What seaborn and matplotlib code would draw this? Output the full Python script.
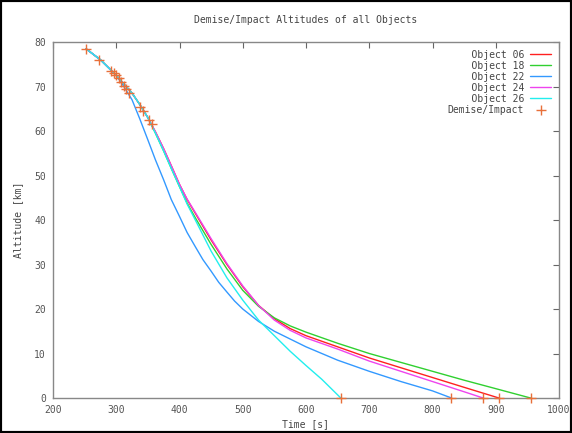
import pandas as pd
import matplotlib
matplotlib.use('Agg')
import matplotlib.pyplot as plt
import seaborn as sns
from matplotlib.patches import Rectangle

#-------------------------------------------------
# data
t_06 = [252, 275, 300, 325, 337, 350, 362, 375, 387, 400, 412, 425, 450, 475, 500, 525, 550, 575, 600, 650, 700, 750, 800, 850, 905]
h_06 = [78.5, 76, 72.5, 68.5, 66, 63, 59.8, 56, 52.2, 48, 44.6, 41.5, 35.5, 30, 25, 20.8, 17.8, 15.6, 14, 11.5, 9, 6.8, 4.6, 2.4, 0]

t_18 = [252, 275, 300, 325, 337, 350, 362, 375, 387, 400, 412, 425, 450, 475, 500, 525, 550, 575, 600, 650, 700, 750, 800, 850, 900, 955]
h_18 = [78.5, 76, 72.5, 68.5, 66, 63, 59.5, 55.5, 51.6, 47.5, 43.8, 40.5, 34.5, 29, 24.2, 20.6, 18, 16.2, 14.8, 12.3, 10, 8, 6, 4, 2.1, 0]

t_22 = [252, 275, 300, 312, 325, 337, 350, 362, 375, 387, 400, 412, 425, 437, 450, 462, 475, 487, 500, 525, 550, 600, 650, 700, 750, 800, 830]
h_22 = [78.5, 76, 72.5, 70, 67, 62.8, 58, 53.5, 49, 44.6, 40.8, 37.2, 34, 31.1, 28.5, 26, 23.8, 21.8, 20, 17.2, 15, 11.5, 8.5, 6, 3.7, 1.6, 0]

t_24 = [252, 275, 300, 325, 337, 350, 362, 375, 387, 400, 412, 425, 450, 475, 500, 525, 550, 575, 600, 650, 700, 750, 800, 850, 880]
h_24 = [78.5, 76, 72.5, 68.5, 66, 63, 59.8, 56, 52.2, 48, 44.7, 41.7, 35.8, 30.2, 25.2, 20.8, 17.5, 15.2, 13.5, 11, 8.3, 6, 3.7, 1.4, 0]

t_26 = [252, 275, 300, 325, 337, 350, 362, 375, 387, 400, 412, 425, 450, 475, 500, 525, 550, 575, 600, 625, 655]
h_26 = [78.5, 76, 72.5, 68.5, 66, 63, 59.5, 55.5, 51.6, 47.5, 43.6, 40, 33, 27, 22, 17.5, 14, 10.5, 7.3, 4.2, 0]

demise_t = [252, 273, 292, 296, 300, 304, 308, 312, 316, 320, 338, 342, 352, 356, 655, 830, 880, 905, 955]
demise_h = [78.5, 76, 73.5, 73, 72.5, 71.8, 71, 70.2, 69.5, 68.5, 65.5, 64.5, 62.5, 61.5, 0, 0, 0, 0, 0]

names = ['Object 06', 'Object 18', 'Object 22', 'Object 24', 'Object 26']
times = [t_06, t_18, t_22, t_24, t_26]
alts = [h_06, h_18, h_22, h_24, h_26]
colors = ['#ff2020', '#30d030', '#3399ff', '#ee44ee', '#22eeee']

rows = []
for n, ts, hs in zip(names, times, alts):
    for t, h in zip(ts, hs):
        rows.append({'Object': n, 'Time': t, 'Altitude': h})
df = pd.DataFrame(rows)
df_demise = pd.DataFrame({'Time': demise_t, 'Altitude': demise_h})

#-------------------------------------------------
# plot creation
sns.set_style('white')
plt.rcParams['font.family'] = ['DejaVu Sans Mono']

fig = plt.figure(figsize=(5.72, 4.33), dpi=100)
ax = fig.add_axes([53 / 572, 1 - 398 / 433, 506 / 572, 356 / 433])

# pad labels so the monospace legend text is right aligned like gnuplot
pad = len('Demise/Impact')
df['Label'] = df['Object'].map({n: n.rjust(pad) for n in names})

sns.lineplot(data=df, x='Time', y='Altitude', hue='Label', palette=colors,
             sort=False, estimator=None, lw=1.0, ax=ax)
sns.scatterplot(data=df_demise, x='Time', y='Altitude', marker='+', color='#e8703a',
                s=45, linewidth=1.0, label='Demise/Impact', ax=ax, zorder=5, clip_on=False)

ax.set_xlim(200, 1000)
ax.set_ylim(0, 80)
ax.set_xticks(range(200, 1001, 100))
ax.set_yticks(range(0, 81, 10))
ax.tick_params(direction='in', length=4, width=0.8, color='#666666', labelsize=7,
               labelcolor='#555555', top=True, right=True, pad=5)
for s in ax.spines.values():
    s.set_color('#888888')
    s.set_linewidth(1.0)

ax.set_xlabel('Time [s]', fontsize=7, color='#444444', labelpad=3)
ax.set_ylabel('Altitude [km]', fontsize=7, color='#444444', labelpad=8)
ax.set_title('Demise/Impact Altitudes of all Objects', fontsize=7, color='#444444', pad=14)

leg = ax.legend(loc='upper right', markerfirst=False, frameon=False, fontsize=7,
                handlelength=2.2, labelspacing=0.1, borderaxespad=0.4, handletextpad=0.6)
for txt in leg.get_texts():
    txt.set_color('#444444')

fig.add_artist(Rectangle((0, 0), 1, 1, transform=fig.transFigure, fill=False,
                         lw=3, ec='black'))

plt.savefig('out.png', dpi=100)
